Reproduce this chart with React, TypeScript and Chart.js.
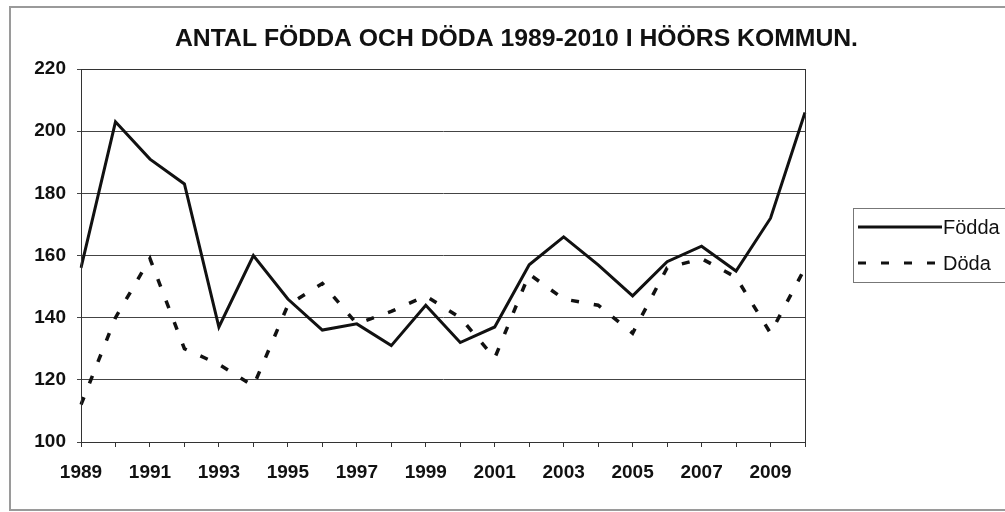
import React, { useEffect, useRef } from "react";
import { Chart, registerables } from "chart.js";

Chart.register(...registerables);

const title = "ANTAL FÖDDA OCH DÖDA 1989-2010 I HÖÖRS KOMMUN.";
const years = [
  "1989", "1990", "1991", "1992", "1993", "1994", "1995", "1996", "1997", "1998", "1999",
  "2000", "2001", "2002", "2003", "2004", "2005", "2006", "2007", "2008", "2009", "2010",
];
const fodda = [156, 203, 191, 183, 137, 160, 146, 136, 138, 131, 144, 132, 137, 157, 166, 157, 147, 158, 163, 155, 172, 206];
const doda = [112, 140, 159, 130, 125, 118, 144, 151, 138, 142, 147, 140, 127, 154, 146, 144, 135, 156, 159, 153, 135, 156];
const seriesNames = ["Födda", "Döda"];
const yTicks = [100, 120, 140, 160, 180, 200, 220];

const FONT = '"Liberation Sans", Arial, sans-serif';

const decorPlugin = {
  id: "decor",
  afterDraw(chart: any) {
    const { ctx, chartArea } = chart;
    ctx.save();
    // outer frame
    ctx.strokeStyle = "#9a9a9a";
    ctx.lineWidth = 2;
    ctx.strokeRect(10, 7, 1005, 503);
    // plot border
    ctx.strokeStyle = "#333";
    ctx.lineWidth = 1;
    ctx.strokeRect(
      Math.round(chartArea.left) + 0.5,
      Math.round(chartArea.top) + 0.5,
      Math.round(chartArea.right - chartArea.left),
      Math.round(chartArea.bottom - chartArea.top)
    );
    // title (stretched to the reference's width)
    ctx.save();
    ctx.fillStyle = "#111";
    ctx.font = `bold 24px ${FONT}`;
    ctx.textAlign = "left";
    ctx.textBaseline = "middle";
    const w = ctx.measureText(title).width;
    const target = 683;
    ctx.translate(175, 39);
    ctx.scale(target / w, 1);
    ctx.fillText(title, 0, 0);
    ctx.restore();
    // legend
    ctx.strokeStyle = "#777";
    ctx.lineWidth = 1;
    ctx.strokeRect(853.5, 208.5, 170, 74);
    const ds = chart.data.datasets;
    const rows = [227, 263];
    ds.forEach((d: any, i: number) => {
      const y = rows[i];
      ctx.beginPath();
      ctx.strokeStyle = "#111";
      ctx.lineWidth = 3;
      ctx.setLineDash(d.borderDash || []);
      ctx.moveTo(858, y);
      ctx.lineTo(942, y);
      ctx.stroke();
      ctx.setLineDash([]);
      ctx.fillStyle = "#111";
      ctx.font = `20px ${FONT}`;
      ctx.textAlign = "left";
      ctx.textBaseline = "middle";
      ctx.fillText(d.label, 943, y + 1);
    });
    ctx.restore();
  },
};

export default function App() {
  const ref = useRef<HTMLCanvasElement>(null);
  useEffect(() => {
    if (!ref.current) return;
    const chart = new Chart(ref.current, {
      type: "line",
      data: {
        labels: years,
        datasets: [
          {
            label: seriesNames[0],
            data: fodda,
            borderColor: "#111",
            borderWidth: 3,
            pointRadius: 0,
            tension: 0,
            fill: false,
          },
          {
            label: seriesNames[1],
            data: doda,
            borderColor: "#111",
            borderWidth: 3.5,
            borderDash: [8, 15],
            pointRadius: 0,
            tension: 0,
            fill: false,
          },
        ],
      },
      options: {
        responsive: false,
        animation: false,
        layout: { padding: { left: 21, top: 69, right: 200, bottom: 30 } },
        plugins: {
          legend: { display: false },
          title: { display: false },
          tooltip: { enabled: false },
        },
        scales: {
          x: {
            offset: false,
            grid: {
              drawOnChartArea: false,
              drawTicks: true,
              tickLength: 5,
              color: "#333",
            },
            border: { color: "#222", width: 1 },
            ticks: {
              autoSkip: false,
              maxRotation: 0,
              minRotation: 0,
              padding: 14,
              color: "#111",
              font: { family: FONT, size: 19, weight: "bold" },
              callback: (_v: any, i: number) => (i % 2 === 0 ? years[i] : ""),
            },
            afterFit: (s: any) => {
              s.height = 40;
            },
          },
          y: {
            min: yTicks[0],
            max: yTicks[yTicks.length - 1],
            afterBuildTicks: (s: any) => {
              s.ticks = yTicks.map((v) => ({ value: v }));
            },
            grid: {
              color: "#444",
              lineWidth: 1,
              drawTicks: true,
              tickLength: 4,
            },
            border: { color: "#222", width: 1 },
            ticks: {
              padding: 11,
              color: "#111",
              font: { family: FONT, size: 19, weight: "bold" },
            },
            afterFit: (s: any) => {
              s.width = 60;
            },
          },
        },
      },
      plugins: [decorPlugin],
    });
    return () => chart.destroy();
  }, []);
  return (
    <div style={{ position: "absolute", left: 0, top: 0, width: 1005, height: 512, background: "#fff" }}>
      <canvas ref={ref} width={1005} height={512} />
    </div>
  );
}
